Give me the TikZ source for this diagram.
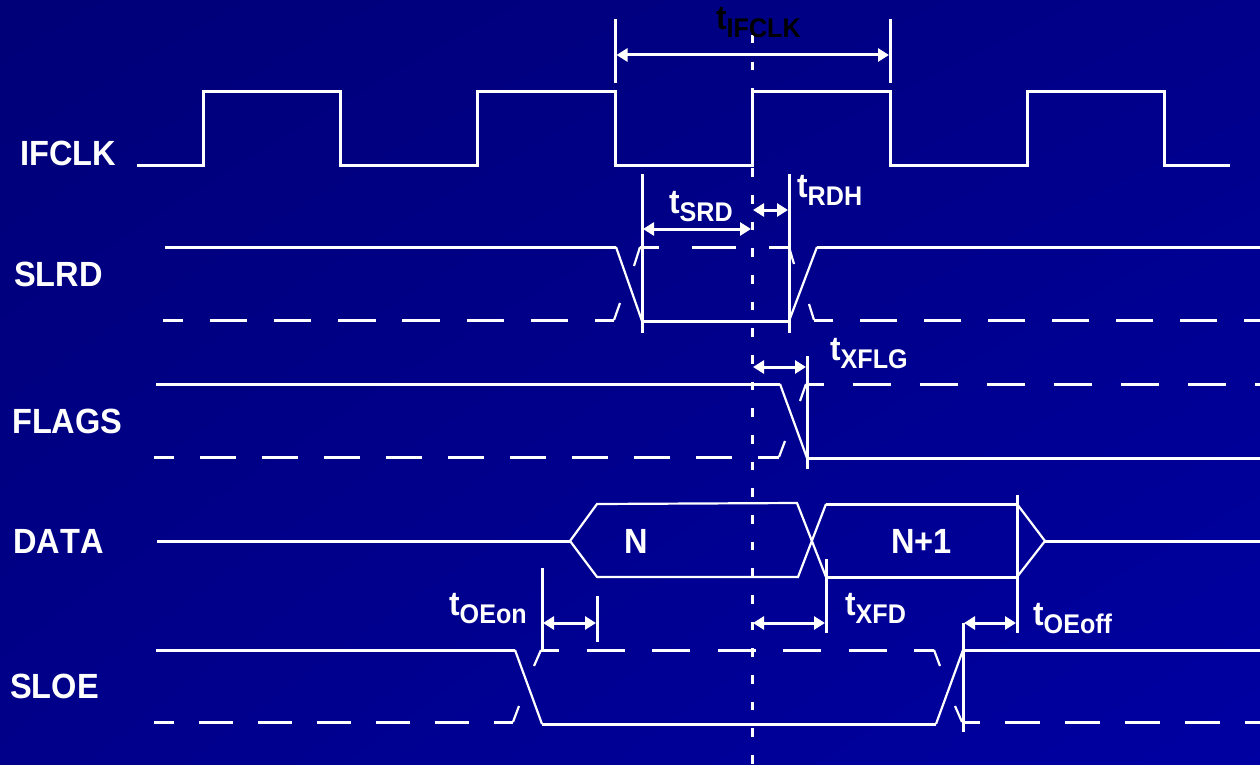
\documentclass[tikz,border=0pt]{standalone}
\usepackage{fontspec}
\setmainfont[FakeStretch=0.93, Kerning=Off]{Liberation Sans}
\usetikzlibrary{arrows.meta, shadings}

\definecolor{bgdark}{RGB}{0,0,120}
\definecolor{bgmid}{RGB}{0,0,138}
\definecolor{bglight}{RGB}{0,0,162}

\newcommand{\tlab}[1]{t\raisebox{-8pt}{\fontsize{27}{27}\selectfont #1}}

\tikzset{
    sig/.style={white, line width=3pt},
    slope/.style={white, line width=2.2pt},
    tickline/.style={white, line width=3pt},
    dimline/.style={white, line width=3pt, {Triangle[length=11pt,width=13pt]}-{Triangle[length=11pt,width=13pt]}, shorten <=1pt, shorten >=1pt},
    lbl/.style={white, inner sep=0pt, anchor=base west, font=\fontsize{35}{35}\bfseries\selectfont},
    tlbl/.style={lbl, font=\fontsize{34}{34}\bfseries\selectfont},
}

\begin{document}
\begin{tikzpicture}[x=1pt, y=-1pt]
    \useasboundingbox (0,0) rectangle (1260,765);
    \shade[upper left=bgdark, upper right=bgmid, lower left=bgmid, lower right=bglight] (0,0) rectangle (1260,765);

    % clock reference
    \draw[white, line width=3pt, dash pattern=on 8.5pt off 18.17pt] (752,35) -- (752,765);

    % IFCLK
    \node[lbl] (ifclk) at (20,165) {IFCLK};
    \draw[sig] (137,165) -| (203.5,92) -| (340.5,165) -| (477.5,92) -| (615.5,165) -| (752,92) -| (890,165) -| (1027,92) -| (1164.5,165) -- (1230,165);
    \draw[tickline] (615.5,19) -- (615.5,83);
    \draw[tickline] (890,19) -- (890,83);
    \draw[dimline] (615.5,55) -- (890,55);
    \node[tlbl, text=black] (tifclk) at (716,30) {\tlab{IFCLK}};

    % SLRD
    \node[lbl] (slrd) at (14,286) {SLRD};
    \draw[sig] (165,247) -- (616,247);
    \draw[slope] (616,247) -- (642,321);
    \draw[sig] (642,321) -- (789,321);
    \draw[slope] (789,321) -- (817,247);
    \draw[sig] (817,247) -- (1260,247);
    \draw[sig, dash pattern=on 37.5pt off 26.7pt, dash phase=17.5pt] (163,320) -- (614,320);
    \draw[slope] (614,320) -- (620,303);
    \draw[slope] (634,266) -- (640,247);
    \draw[sig, dash pattern=on 44pt off 33pt, dash phase=25pt] (640,247) -- (789,247);
    \draw[slope] (789,247) -- (794,264);
    \draw[slope] (809,304) -- (814,320);
    \draw[sig, dash pattern=on 37pt off 27pt, dash phase=18pt] (814,320) -- (1260,320);
    \draw[tickline] (642,174) -- (642,333);
    \draw[tickline] (789,174) -- (789,333);
    \draw[dimline] (642,229) -- (752,229);
    \draw[dimline] (752,210) -- (789,210);
    \node[tlbl] (tsrd) at (669,213) {\tlab{SRD}};
    \node[tlbl] (trdh) at (797,197) {\tlab{RDH}};

    % FLAGS
    \node[lbl] (flags) at (12,433) {FLAGS};
    \draw[sig] (156,384) -- (780,384);
    \draw[slope] (780,384) -- (807,458);
    \draw[sig] (807,458) -- (1260,458);
    \draw[sig, dash pattern=on 36pt off 26pt, dash phase=16pt] (154,457) -- (779,457);
    \draw[slope] (779,457) -- (785,441);
    \draw[slope] (800,401) -- (806,384);
    \draw[sig, dash pattern=on 38.5pt off 28.5pt, dash phase=20.5pt] (806,384) -- (1260,384);
    \draw[tickline] (807,356) -- (807,469);
    \draw[dimline] (752,367) -- (807,367);
    \node[tlbl] (txflg) at (830,360) {\tlab{XFLG}};

    % DATA
    \node[lbl] (data) at (13,553) {DATA};
    \draw[sig] (157,541) -- (570,541);
    \draw[slope] (570,541) -- (597,504) -- (797,503) -- (826,577);
    \draw[slope] (570,541) -- (597,577) -- (798,577) -- (826,504);
    \draw[sig] (826,504) -- (1017,504);
    \draw[sig] (826,577) -- (1017,577);
    \draw[slope] (1017,504) -- (1045,541) -- (1017,577);
    \draw[sig] (1045,541) -- (1260,541);
    \node[lbl] (n) at (624,553) {N};
    \node[lbl] (nplus) at (891,553) {N+1};
    \draw[tickline] (542,568) -- (542,650);
    \draw[tickline] (597,596) -- (597,642);
    \draw[tickline] (826,559) -- (826,633);
    \draw[tickline] (1017,495) -- (1017,633);
    \draw[tickline] (963,623) -- (963,732);
    \draw[dimline] (542,623) -- (597,623);
    \draw[dimline] (752,623) -- (826,623);
    \draw[dimline] (963,623) -- (1017,623);
    \node[tlbl] (toeon) at (449,615) {\tlab{OEon}};
    \node[tlbl] (txfd) at (845,615) {\tlab{XFD}};
    \node[tlbl] (toeoff) at (1033,625) {\tlab{OEoff}};

    % SLOE
    \node[lbl] (sloe) at (10,698) {SLOE};
    \draw[sig] (156,650) -- (515,650);
    \draw[slope] (515,650) -- (542,724);
    \draw[sig] (542,724) -- (936,724);
    \draw[slope] (936,724) -- (963,650);
    \draw[sig] (963,650) -- (1260,650);
    \draw[sig, dash pattern=on 34.5pt off 24.5pt, dash phase=14.5pt] (154,722) -- (513,722);
    \draw[slope] (513,722) -- (519,706);
    \draw[slope] (534,666) -- (541,650);
    \draw[sig, dash pattern=on 38pt off 27.5pt, dash phase=20pt] (541,650) -- (934,650);
    \draw[slope] (934,650) -- (940,666);
    \draw[slope] (955,706) -- (962,722);
    \draw[sig, dash pattern=on 35pt off 25pt, dash phase=17pt] (962,722) -- (1260,722);
\end{tikzpicture}
\end{document}
